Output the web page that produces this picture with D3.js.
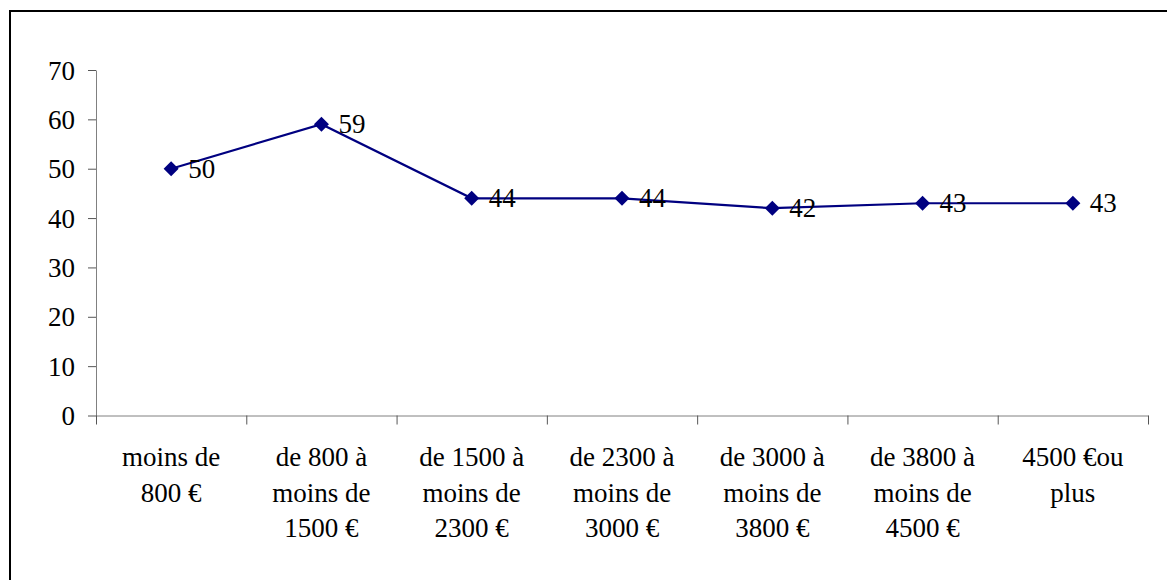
<!DOCTYPE html>
<html>
<head>
<meta charset="utf-8">
<script src="https://cdn.jsdelivr.net/npm/d3@7"></script>
<style>
  body { margin: 0; background: #fff; }
</style>
</head>
<body>
<div id="chart"></div>
<script>
// categories (line breaks as in the original) and values
var categories = [
  "moins de\n800 €",
  "de 800 à\nmoins de\n1500 €",
  "de 1500 à\nmoins de\n2300 €",
  "de 2300 à\nmoins de\n3000 €",
  "de 3000 à\nmoins de\n3800 €",
  "de 3800 à\nmoins de\n4500 €",
  "4500 €ou\nplus"
];
var values = [50, 59, 44, 44, 42, 43, 43];
var yTicks = [0, 10, 20, 30, 40, 50, 60, 70];

var W = 1167, H = 580;
var plot = {left: 96, right: 1148, top: 70, bottom: 415.5};
var FONT = "'Liberation Serif'";

var svg = d3.select("#chart")
  .append("svg")
  .attr("width", W)
  .attr("height", H);

// outer frame (clipped at right / bottom like the original)
svg.append("rect")
  .attr("x", 10).attr("y", 11)
  .attr("width", 1300).attr("height", 700)
  .attr("fill", "none")
  .attr("stroke", "#000")
  .attr("stroke-width", 2);

var x = d3.scaleBand()
  .domain(categories)
  .range([plot.left, plot.right])
  .padding(0);

var xEdge = d3.scaleLinear()
  .domain([0, categories.length])
  .range([plot.left, plot.right]);

var y = d3.scaleLinear()
  .domain([0, 70])
  .range([plot.bottom, plot.top]);

// Y axis
var yAxis = svg.append("g")
  .attr("transform", "translate(" + plot.left + ",0)")
  .call(d3.axisLeft(y).tickValues(yTicks).tickSize(8).tickPadding(13).tickSizeOuter(0));
yAxis.attr("font-family", null).attr("font-size", null);
yAxis.select(".domain").attr("stroke", "#808080");
yAxis.selectAll(".tick line").attr("stroke", "#555");
yAxis.selectAll(".tick text")
  .attr("fill", "#000")
  .attr("dy", null)
  .attr("y", 9)
  .style("font-size", "27px")
  .style("font-family", FONT);

// X axis: ticks between categories
var xAxis = svg.append("g")
  .attr("transform", "translate(0," + plot.bottom + ")")
  .call(d3.axisBottom(xEdge).tickValues(d3.range(categories.length + 1)).tickFormat("").tickSize(9).tickSizeOuter(0));
xAxis.select(".domain").attr("stroke", "#808080");
xAxis.selectAll(".tick line").attr("stroke", "#555");

// category labels
var lab = svg.append("g").selectAll("text")
  .data(categories)
  .enter().append("text")
  .attr("x", function(d){ return x(d) + x.bandwidth() / 2; })
  .attr("y", 466)
  .attr("text-anchor", "middle")
  .style("font-size", "27px")
  .style("font-family", FONT)
  .attr("fill", "#000");
lab.selectAll("tspan")
  .data(function(d){ return d.split("\n"); })
  .enter().append("tspan")
  .attr("x", function(){ return d3.select(this.parentNode).attr("x"); })
  .attr("dy", function(d, i){ return i === 0 ? 0 : 35.5; })
  .text(function(d){ return d; });

// line
var pts = categories.map(function(c, i){ return {c: c, v: values[i]}; });
var line = d3.line()
  .x(function(d){ return x(d.c) + x.bandwidth() / 2; })
  .y(function(d){ return y(d.v); });

svg.append("path")
  .datum(pts)
  .attr("d", line)
  .attr("fill", "none")
  .attr("stroke", "#000080")
  .attr("stroke-width", 2.2);

// diamond markers
svg.append("g").selectAll("path")
  .data(pts)
  .enter().append("path")
  .attr("transform", function(d){ return "translate(" + (x(d.c) + x.bandwidth() / 2) + "," + y(d.v) + ")"; })
  .attr("d", "M0,-7.5L7.5,0L0,7.5L-7.5,0Z")
  .attr("fill", "#000080");

// value labels
svg.append("g").selectAll("text")
  .data(pts)
  .enter().append("text")
  .attr("x", function(d){ return x(d.c) + x.bandwidth() / 2 + 17; })
  .attr("y", function(d){ return y(d.v) + 9; })
  .style("font-size", "27px")
  .style("font-family", FONT)
  .attr("fill", "#000")
  .text(function(d){ return d.v; });
</script>
</body>
</html>
